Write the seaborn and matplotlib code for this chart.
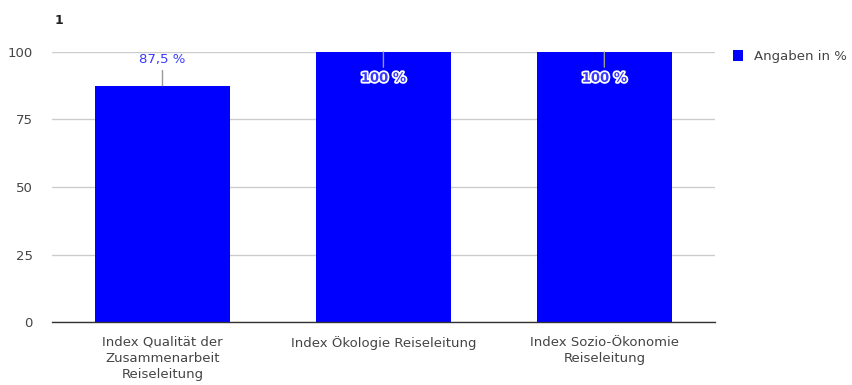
import matplotlib
matplotlib.use("Agg")
import matplotlib.pyplot as plt
import matplotlib.patheffects as pe
from matplotlib.patches import Patch
import seaborn as sns
import pandas as pd

categories = [
    "Index Qualität der\nZusammenarbeit\nReiseleitung",
    "Index Ökologie Reiseleitung",
    "Index Sozio-Ökonomie\nReiseleitung",
]
values = [87.5, 100, 100]
series_name = "Angaben in %"
title = "1"
y_ticks = [0, 25, 50, 75, 100]

BAR = "#0000ff"
TEXT = "#444444"
GRID = "#cccccc"
FS = 9.5

sns.set_theme(style="white")
plt.rcParams["font.family"] = ["DejaVu Sans"]

df = pd.DataFrame({"Kategorie": categories, "Wert": values})

fig = plt.figure(figsize=(8.53, 3.85), dpi=100)
ax = fig.add_axes([0.061, 0.1636, 0.777, 0.7014])

sns.barplot(data=df, x="Kategorie", y="Wert", color=BAR, width=0.61,
            saturation=1, ax=ax, zorder=2)
for p in ax.patches:
    p.set_edgecolor("none")

ax.set_ylim(0, 100)
ax.set_xlim(-0.5, len(categories) - 0.5)
ax.set_yticks(y_ticks)
ax.set_yticklabels([str(t) for t in y_ticks])
ax.yaxis.grid(True, color=GRID, linewidth=1, zorder=0)
ax.set_axisbelow(True)
for side in ["top", "right", "left"]:
    ax.spines[side].set_visible(False)
ax.spines["bottom"].set_color("#333333")
ax.spines["bottom"].set_linewidth(1)
ax.tick_params(axis="both", length=0, labelsize=FS, colors=TEXT)
ax.tick_params(axis="y", pad=14)
ax.tick_params(axis="x", pad=10)
for lbl in ax.get_xticklabels():
    lbl.set_linespacing(1.3)
ax.set_xlabel("")
ax.set_ylabel("")

# value labels with a short stem; labels that would leave the plot go inside the bar
ymax = ax.get_ylim()[1]
for i, v in enumerate(values):
    txt = f"{v:g}".replace(".", ",") + " %"
    inside = v + 9 > ymax
    dy = -19 if inside else 19
    kw = dict(color="#3a3aff", fontsize=FS)
    if inside:
        kw["path_effects"] = [pe.withStroke(linewidth=2.5, foreground="white")]
        kw["fontweight"] = "bold"
    ax.annotate(txt, xy=(i, v), xytext=(0, dy), textcoords="offset points",
                ha="center", va="center", annotation_clip=False,
                arrowprops=dict(arrowstyle="-", color="#999999", lw=1,
                                shrinkA=1, shrinkB=0),
                zorder=5, **kw)

fig.text(0.064, 0.948, title, fontsize=FS - 0.5, fontweight="bold",
         color="#222222", ha="left", va="center")

fig.legend(handles=[Patch(facecolor=BAR, edgecolor="none", label=series_name)],
           loc="upper left", bbox_to_anchor=(0.853, 0.885), frameon=False,
           fontsize=FS, handlelength=0.8, handleheight=1.0, handletextpad=0.8,
           labelcolor=TEXT, borderaxespad=0)

fig.savefig("out.png", dpi=100)
